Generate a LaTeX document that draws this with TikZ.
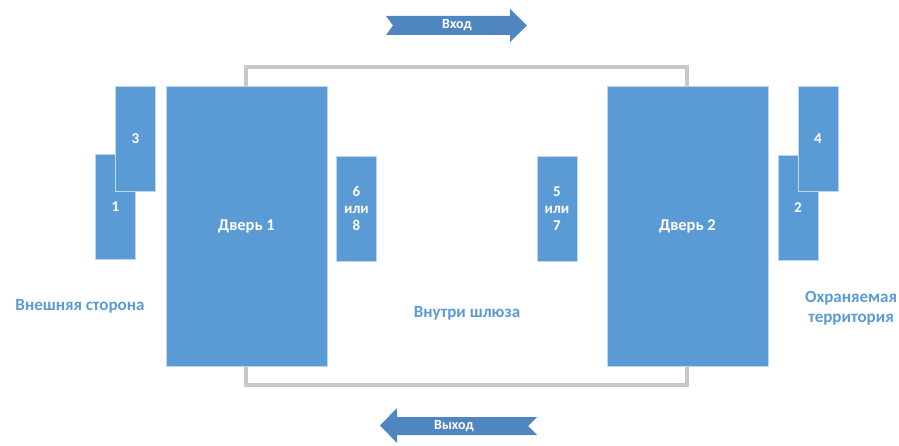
\documentclass[tikz,border=0pt]{standalone}
\usepackage{fontspec}
\setmainfont{Carlito}
\definecolor{boxblue}{HTML}{5B9BD5}
\definecolor{arrblue}{HTML}{4F86BF}
\definecolor{framegray}{HTML}{C8C8C8}
\begin{document}
\begin{tikzpicture}[x=1pt,y=-1pt,
  blk/.style={fill=boxblue,draw=boxblue!40,line width=0.6pt,text=white,font=\bfseries\fontsize{15}{17}\selectfont,align=center,inner sep=0pt},
  door/.style={blk,font=\bfseries\fontsize{16.5}{19}\selectfont},
  lbl/.style={text=boxblue,font=\bfseries\fontsize{17}{20}\selectfont,align=center},
  arr/.style={fill=arrblue,draw=none},
  arrtxt/.style={text=white,font=\bfseries\fontsize{14}{16}\selectfont}]
\useasboundingbox (0,0) rectangle (899,446);
% frame
\draw[framegray,line width=3.5pt] (246,67) rectangle (687,385);
% doors
\node[door,minimum width=161pt,minimum height=280pt] (d1) at (246.5,226) {Дверь 1};
\node[door,minimum width=161pt,minimum height=280pt] (d2) at (687.5,226) {Дверь 2};
% readers
\node[blk,minimum width=40pt,minimum height=105pt] (r1) at (115.5,206.5) {1};
\node[blk,minimum width=40pt,minimum height=105pt] (r3) at (135.5,138.5) {3};
\node[blk,minimum width=40pt,minimum height=105pt] (r2) at (798,207.5) {2};
\node[blk,minimum width=40pt,minimum height=105pt] (r4) at (818,138.5) {4};
\node[blk,minimum width=40pt,minimum height=105pt] (r68) at (356.5,208.5) {6\\или\\8};
\node[blk,minimum width=40pt,minimum height=105pt] (r57) at (557,208.5) {5\\или\\7};
% labels
\node[lbl] (outside) at (80,306) {Внешняя сторона};
\node[lbl] (inside) at (467,313) {Внутри шлюза};
\node[lbl] (secured) at (851,308) {Охраняемая\\территория};
% arrows
\fill[arr] (386,16) -- (510,16) -- (510,9) -- (527,25.5) -- (510,42) -- (510,35) -- (386,35) -- (393,25.5) -- cycle;
\node[arrtxt] (in) at (457,25.5) {Вход};
\fill[arr] (537,417) -- (397,417) -- (397,408) -- (380,425.5) -- (397,443) -- (397,435) -- (537,435) -- (528,426) -- cycle;
\node[arrtxt] (out) at (454,426.5) {Выход};
\end{tikzpicture}
\end{document}
